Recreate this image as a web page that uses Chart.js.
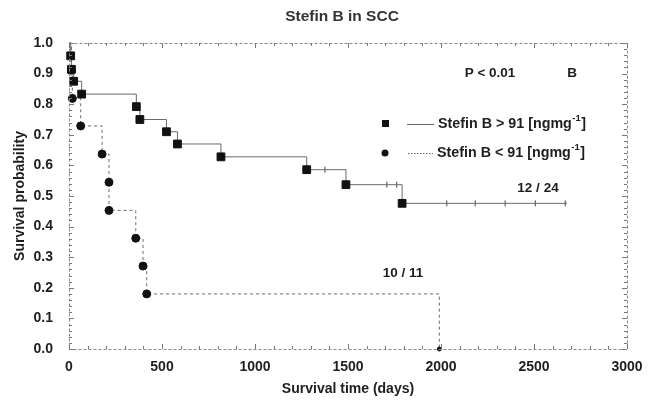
<!DOCTYPE html>
<html><head><meta charset="utf-8">
<script src="https://cdn.jsdelivr.net/npm/chart.js@4/dist/chart.umd.min.js"></script>
<style>html,body{margin:0;padding:0;background:#fff;}#wrap{width:655px;height:404px;position:relative;}</style>
</head><body><div id="wrap"><canvas id="c"></canvas></div>
<script>
const xTicks = [0, 500, 1000, 1500, 2000, 2500, 3000];
const yTicks = [0, 0.1, 0.2, 0.3, 0.4, 0.5, 0.6, 0.7, 0.8, 0.9, 1.0];

// Stefin B > 91 (events)
const highDays = [9, 13, 25, 68, 362, 381, 524, 583, 817, 1278, 1489, 1791];
const highSurv = [0.958, 0.914, 0.875, 0.833, 0.792, 0.750, 0.710, 0.670, 0.628, 0.586, 0.537, 0.476];
const highEndDay = 2677;
const highCensorDays = [1376, 1709, 1762, 2031, 2184, 2345, 2507, 2668];
const highCensorSurv = [0.586, 0.537, 0.537, 0.476, 0.476, 0.476, 0.476, 0.476];

// Stefin B < 91 (events)
const lowDays = [13, 18, 63, 178, 215, 215, 359, 398, 418, 1991];
const lowSurv = [0.909, 0.819, 0.729, 0.637, 0.545, 0.453, 0.362, 0.271, 0.180, 0.0];

const titleText = 'Stefin B in SCC';
const xTitle = 'Survival time (days)';
const yTitle = 'Survival probability';
const pText = 'P < 0.01';
const panelText = 'B';
const highLabel = 'Stefin B > 91 [ngmg';
const lowLabel = 'Stefin B < 91 [ngmg';
const highCount = '12 / 24';
const lowCount = '10 / 11';

const FONT = "'Liberation Sans', Arial, sans-serif";
const TXT = '#1e1e1e';

const highLine = [{x: 0, y: 1}].concat(highDays.map((d, i) => ({x: d, y: highSurv[i]}))).concat([{x: highEndDay, y: highSurv[highSurv.length - 1]}]);
const lowLine = [{x: 0, y: 1}].concat(lowDays.map((d, i) => ({x: d, y: lowSurv[i]})));

const decor = {
  id: 'decor',
  afterDatasetsDraw(chart) {
    const ctx = chart.ctx, a = chart.chartArea, xs = chart.scales.x, ys = chart.scales.y;
    ctx.save();
    // frame
    ctx.strokeStyle = '#8a8a8a'; ctx.lineWidth = 1; ctx.setLineDash([3, 2]);
    ctx.strokeRect(a.left + 0.5, a.top + 0.5, a.right - a.left, a.bottom - a.top);
    ctx.setLineDash([]);
    // minor ticks
    ctx.strokeStyle = '#777';
    ctx.beginPath();
    for (let v = 0; v <= 3000; v += 100) {
      const px = Math.round(xs.getPixelForValue(v)) + 0.5;
      const len = v % 500 === 0 ? 5 : 3;
      ctx.moveTo(px, a.bottom); ctx.lineTo(px, a.bottom - len);
      ctx.moveTo(px, a.top); ctx.lineTo(px, a.top + len);
    }
    for (let k = 0; k <= 50; k++) {
      const v = k / 50;
      const py = Math.round(ys.getPixelForValue(v)) + 0.5;
      const len = k % 5 === 0 ? 5 : 3;
      ctx.moveTo(a.left, py); ctx.lineTo(a.left + len, py);
      ctx.moveTo(a.right, py); ctx.lineTo(a.right - len, py);
    }
    ctx.stroke();
    // texts
    ctx.fillStyle = '#333';
    ctx.font = 'bold 15.5px ' + FONT;
    ctx.textAlign = 'center'; ctx.textBaseline = 'middle';
    ctx.fillText(titleText, 342, 17);
    ctx.fillStyle = TXT;
    ctx.font = 'bold 13.5px ' + FONT;
    ctx.fillText(pText, 490, 73);
    ctx.fillText(panelText, 572, 73);
    ctx.fillText(highCount, 538, 188);
    ctx.fillText(lowCount, 403, 273);
    // legend
    const drawLabel = (txt, x, y) => {
      ctx.textAlign = 'left';
      ctx.font = 'bold 14.3px ' + FONT;
      ctx.fillText(txt, x, y);
      let w = ctx.measureText(txt).width;
      ctx.font = 'bold 9.5px ' + FONT;
      ctx.fillText('-1', x + w + 0.5, y - 5.5);
      const w2 = ctx.measureText('-1').width;
      ctx.font = 'bold 14.3px ' + FONT;
      ctx.fillText(']', x + w + w2 + 1, y);
    };
    ctx.fillStyle = '#111';
    ctx.fillRect(382, 120, 7, 7);
    ctx.beginPath(); ctx.arc(385, 153, 3.5, 0, Math.PI * 2); ctx.fill();
    ctx.strokeStyle = '#666'; ctx.lineWidth = 1;
    ctx.beginPath(); ctx.moveTo(407, 124.5); ctx.lineTo(434, 124.5); ctx.stroke();
    ctx.setLineDash([1.5, 1.5]);
    ctx.beginPath(); ctx.moveTo(408, 153.5); ctx.lineTo(433, 153.5); ctx.stroke();
    ctx.setLineDash([]);
    ctx.fillStyle = TXT;
    drawLabel(highLabel, 438, 124);
    drawLabel(lowLabel, 437, 153);
    ctx.restore();
  }
};

new Chart(document.getElementById('c'), {
  type: 'line',
  data: {
    datasets: [
      {
        data: highLine, stepped: 'before', borderColor: '#6a6a6a', borderWidth: 1,
        pointStyle: 'rect', backgroundColor: '#111', pointBorderColor: '#111',
        pointRadius: c => (c.dataIndex === 0 || c.dataIndex === highLine.length - 1) ? 0 : 5.5,
        clip: false
      },
      {
        data: lowLine, stepped: 'before', borderColor: '#6a6a6a', borderWidth: 1, borderDash: [3, 3],
        pointStyle: 'circle', backgroundColor: '#111', pointBorderColor: '#111',
        pointRadius: c => c.dataIndex === 0 ? 0 : (c.dataIndex === lowLine.length - 1 ? 2 : 4),
        clip: false
      },
      {
        data: highCensorDays.map((d, i) => ({x: d, y: highCensorSurv[i]})), showLine: false,
        pointStyle: 'line', rotation: 90, pointRadius: 3, borderColor: '#444', pointBorderColor: '#444', borderWidth: 1
      }
    ]
  },
  options: {
    responsive: true, maintainAspectRatio: false, animation: false, events: [],
    layout: {padding: {top: 43, right: 28, left: 0, bottom: 0}},
    plugins: {legend: {display: false}, title: {display: false}, tooltip: {enabled: false}},
    scales: {
      x: {
        type: 'linear', min: 0, max: 3000,
        afterBuildTicks: s => { s.ticks = xTicks.map(v => ({value: v})); },
        afterFit: s => { s.height = 55; },
        grid: {display: false, drawTicks: false}, border: {display: false},
        ticks: {padding: 10, color: TXT, font: {family: FONT, size: 14, weight: 'bold'}, callback: v => String(v)},
        title: {display: true, text: xTitle, color: TXT, font: {family: FONT, size: 14, weight: 'bold'}, padding: {top: 0, bottom: 6}}
      },
      y: {
        type: 'linear', min: 0, max: 1,
        afterBuildTicks: s => { s.ticks = yTicks.map(v => ({value: v})); },
        afterFit: s => { s.width = 69; },
        grid: {display: false, drawTicks: false}, border: {display: false},
        ticks: {padding: 16, color: TXT, font: {family: FONT, size: 14, weight: 'bold'}, callback: v => Number(v).toFixed(1)},
        title: {display: true, text: yTitle, color: TXT, font: {family: FONT, size: 14, weight: 'bold'}, padding: {top: 12, bottom: 0}}
      }
    }
  },
  plugins: [decor]
});
</script></body></html>
